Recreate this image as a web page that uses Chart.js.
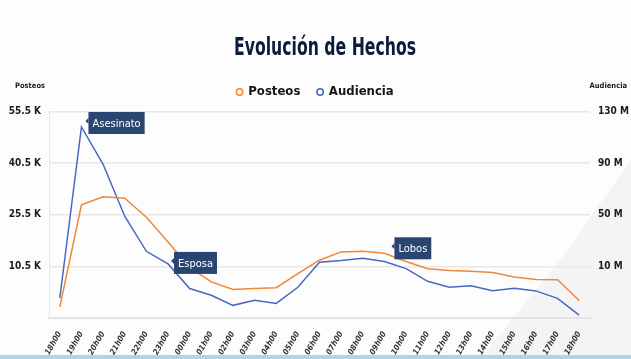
<!DOCTYPE html>
<html>
<head>
<meta charset="utf-8">
<script src="https://cdn.jsdelivr.net/npm/chart.js@4.4.1/dist/chart.umd.min.js"></script>
<style>
  html, body { margin: 0; padding: 0; }
  body {
    width: 631px; height: 359px; overflow: hidden; position: relative;
    background: #fdfdfd;
  }
  .deco {
    position: absolute; left: 0; top: 0; width: 631px; height: 359px;
    background: #f4f4f5;
    clip-path: polygon(631px 160px, 631px 359px, 480px 359px, 560px 260px);
  }
  .band {
    position: absolute; left: 0; bottom: 0; width: 631px; height: 4px;
    background: #acd5e8;
  }
  #wrap { position: absolute; left: 0; top: 0; width: 631px; height: 359px; }
</style>
</head>
<body>
<div class="deco"></div>
<div class="band"></div>
<div id="wrap"><canvas id="chart"></canvas></div>
<script>
// data
const hours = ['18h00', '19h00', '20h00', '21h00', '22h00', '23h00', '00h00', '01h00', '02h00',
  '03h00', '04h00', '05h00', '06h00', '07h00', '08h00', '09h00', '10h00', '11h00', '12h00',
  '13h00', '14h00', '15h00', '16h00', '17h00', '18h00'];
// Posteos, thousands
const posteos = [-1.3, 28.4, 30.7, 30.3, 24.8, 17.6, 10.2, 6.0, 3.8, 4.1, 4.3, 8.4, 12.3,
  14.7, 14.9, 14.3, 11.9, 9.8, 9.3, 9.1, 8.7, 7.4, 6.7, 6.6, 0.6];
// Audiencia, millions
const audiencia = [-14.5, 118, 89.1, 48.9, 21.7, 11.9, -7.2, -12.4, -20.2, -16.3, -18.7, -6.2,
  13.2, 14.5, 16.3, 13.7, 8.3, -1.6, -6.2, -5.1, -8.8, -7, -9, -14.8, -27.7];

// callouts
const noteLabels = ['Asesinato', 'Esposa', 'Lobos'];
const noteSeries = [1, 1, 0];
const noteIndex = [1, 5, 15];

const TITLE = 'Evolución de Hechos';
const NARROW = "'DejaVu Sans Condensed', 'Liberation Sans Narrow', sans-serif";
const ORANGE = '#f0883a';
const BLUE = '#4868c2';

const callouts = {
  id: 'callouts',
  afterDatasetsDraw(chart) {
    const ctx = chart.ctx;
    ctx.save();
    ctx.font = '11px ' + NARROW;
    for (let i = 0; i < noteLabels.length; i++) {
      const pt = chart.getDatasetMeta(noteSeries[i]).data[noteIndex[i]];
      const w = ctx.measureText(noteLabels[i]).width + 8;
      const h = 22;
      let x, y;
      if (i === 0) { x = pt.x + 7; y = pt.y - 15; }
      else if (i === 1) { x = pt.x + 6; y = pt.y - 12; }
      else { x = pt.x + 10; y = pt.y - 16; }
      ctx.fillStyle = '#2a4670';
      ctx.fillRect(x, y, w, h);
      ctx.beginPath();
      ctx.moveTo(x, y + 6);
      ctx.lineTo(x - 3, y + 9);
      ctx.lineTo(x, y + 12);
      ctx.fill();
      ctx.fillStyle = '#fff';
      ctx.textBaseline = 'middle';
      ctx.fillText(noteLabels[i], x + 4, y + h / 2 + 1);
    }
    ctx.restore();
  }
};

// title and the two axis captions
const headings = {
  id: 'headings',
  afterDraw(chart) {
    const ctx = chart.ctx;
    ctx.save();
    ctx.font = 'bold 25px ' + NARROW;
    ctx.fillStyle = '#0c1a3c';
    ctx.textBaseline = 'alphabetic';
    const w = ctx.measureText(TITLE).width;
    const sx = 182 / w;
    ctx.translate(325, 55);
    ctx.scale(sx, 1);
    ctx.textAlign = 'center';
    ctx.fillText(TITLE, 0, 0);
    ctx.restore();

    ctx.save();
    ctx.font = 'bold 7.5px ' + NARROW;
    ctx.fillStyle = '#1b1b1b';
    ctx.textBaseline = 'middle';
    ctx.textAlign = 'left';
    ctx.fillText('Posteos', 15, 86);
    ctx.textAlign = 'right';
    ctx.fillText('Audiencia', 627, 86);
    ctx.restore();
  }
};

new Chart(document.getElementById('chart'), {
  type: 'line',
  data: {
    labels: hours,
    datasets: [
      {
        label: 'Posteos',
        data: posteos,
        yAxisID: 'y',
        borderColor: ORANGE,
        backgroundColor: '#fff',
        borderWidth: 1.5,
        pointRadius: 0,
        pointStyle: 'circle',
        tension: 0
      },
      {
        label: 'Audiencia',
        data: audiencia,
        yAxisID: 'y1',
        borderColor: BLUE,
        backgroundColor: '#fff',
        borderWidth: 1.5,
        pointRadius: 0,
        pointStyle: 'circle',
        tension: 0
      }
    ]
  },
  options: {
    responsive: true,
    maintainAspectRatio: false,
    animation: false,
    layout: { padding: { top: 68, bottom: 0, left: 0, right: 0 } },
    plugins: {
      title: { display: false },
      // empty subtitle used as a spacer under the legend
      subtitle: {
        display: true,
        text: ' ',
        weight: 500,
        font: { size: 2 },
        padding: { top: 0, bottom: 0.6 }
      },
      legend: {
        display: true,
        labels: {
          usePointStyle: true,
          boxWidth: 4.5,
          boxHeight: 4.5,
          color: '#151515',
          font: { family: NARROW, size: 13, weight: '600' },
          padding: 17.5
        }
      },
      tooltip: { enabled: false }
    },
    scales: {
      x: {
        offset: true,
        grid: { display: false },
        border: { display: true, color: '#e4e4e4', width: 2 },
        ticks: {
          minRotation: 60,
          maxRotation: 60,
          color: '#333',
          font: { family: NARROW, size: 8, style: 'italic', weight: 'bold' },
          padding: 4
        },
        afterFit(scale) { scale.height = 41; }
      },
      y: {
        position: 'left',
        min: -4.5,
        max: 55.5,
        ticks: {
          stepSize: 15,
          color: '#1b1b1b',
          font: { family: NARROW, size: 10, weight: 'bold' },
          padding: 8,
          callback: v => v < 0 ? '' : v.toFixed(1) + ' K'
        },
        grid: { color: '#ebe6e6', lineWidth: 1.5, drawTicks: false },
        border: { display: true, color: '#e8e8e8', width: 1 },
        afterFit(scale) { scale.width = 49; }
      },
      y1: {
        position: 'right',
        min: -30,
        max: 130,
        ticks: {
          stepSize: 40,
          color: '#1b1b1b',
          font: { family: NARROW, size: 10, weight: 'bold' },
          padding: 8,
          callback: v => v < 0 ? '' : v + ' M'
        },
        grid: { display: false, drawTicks: false },
        border: { display: false },
        afterFit(scale) { scale.width = 41; }
      }
    }
  },
  plugins: [callouts, headings]
});
</script>
</body>
</html>
